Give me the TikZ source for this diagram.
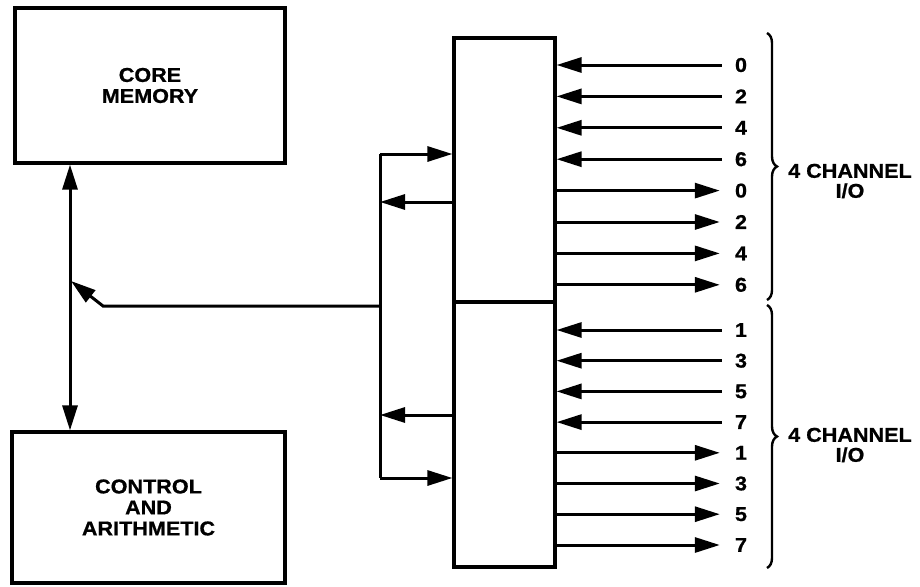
\documentclass[tikz,border=0pt]{standalone}
\usepackage{fontspec}
\setmainfont{Liberation Sans}[FakeStretch=1.08, BoldFeatures={FakeBold=0.8}]
\usetikzlibrary{arrows.meta, decorations.pathreplacing}

\tikzset{
    blk/.style={draw, line width=3.2pt, align=center, inner sep=0pt,
        font=\bfseries\fontsize{20}{21}\selectfont},
    ln/.style={line width=3pt},
    bigtip/.style={ln, -{Triangle[length=25pt, width=15pt]}},
    dbltip/.style={ln, {Triangle[length=25pt, width=15pt]}-{Triangle[length=25pt, width=15pt]}},
    num/.style={font=\bfseries\fontsize{20}{20}\selectfont, inner xsep=13pt, inner ysep=0pt},
    chan/.style={align=center, font=\bfseries\fontsize{20}{20}\selectfont},
    brc/.style={line width=2.4pt, decorate, decoration={brace, amplitude=10pt}}
}

\begin{document}
\begin{tikzpicture}[x=1pt, y=-1pt]
    \useasboundingbox (0,0) rectangle (920,586);

    % main blocks
    \node[blk, minimum width=270pt, minimum height=155pt] (core) at (150,85.5) {CORE\\MEMORY};
    \node[blk, minimum width=273pt, minimum height=151pt] (ctrl) at (148.5,507.5) {CONTROL\\AND\\ARITHMETIC};
    \node[blk, minimum width=101pt, minimum height=264pt] (iohi) at (504.5,170) {};
    \node[blk, minimum width=101pt, minimum height=265pt] (iolo) at (504.5,434.5) {};

    % memory bus
    \coordinate (mid) at (70,300);
    \draw[dbltip] (core.south -| mid) -- (ctrl.north -| mid);
    \coordinate (hit) at (71,281);
    \coordinate (kn) at (103,306);

    % i/o bus
    \coordinate (b1) at (380,154);
    \coordinate (b2) at (380,202);
    \coordinate (bf) at (380,306);
    \coordinate (b3) at (380,415);
    \coordinate (b4) at (380,478);
    \draw[ln] (b1) -- (b4);
    \draw[bigtip] (b1) -- (b1 -| iohi.west);
    \draw[bigtip] (b2 -| iohi.west) -- (b2);
    \draw[bigtip] (b3 -| iolo.west) -- (b3);
    \draw[bigtip] (b4) -- (b4 -| iolo.west);
    \draw[bigtip] (bf) -- (kn) -- (hit);

    % channels 0 2 4 6
    \foreach \y/\t [count=\i] in {65/0, 96.4/2, 127.8/4, 159.2/6} {
        \node[num] (ei\i) at (741,\y) {\t};
        \draw[bigtip] (ei\i.west) -- (ei\i.west -| iohi.east);
    }
    \foreach \y/\t [count=\i] in {190.6/0, 222/2, 253.4/4, 284.8/6} {
        \node[num] (eo\i) at (741,\y) {\t};
        \draw[bigtip] (eo\i.west -| iohi.east) -- ([xshift=-2pt]eo\i.west);
    }

    % channels 1 3 5 7
    \foreach \y/\t [count=\i] in {330/1, 360.7/3, 391.4/5, 422.1/7} {
        \node[num] (oi\i) at (741,\y) {\t};
        \draw[bigtip] (oi\i.west) -- (oi\i.west -| iolo.east);
    }
    \foreach \y/\t [count=\i] in {452.8/1, 483.5/3, 514.2/5, 545/7} {
        \node[num] (oo\i) at (741,\y) {\t};
        \draw[bigtip] (oo\i.west -| iolo.east) -- ([xshift=-2pt]oo\i.west);
    }

    % braces
    \coordinate (u1) at (767,33);
    \coordinate (u2) at (767,300);
    \coordinate (l1) at (767,305);
    \coordinate (l2) at (767,568);
    \draw[brc] (u1) -- (u2);
    \draw[brc] (l1) -- (l2);
    \node[chan] (chhi) at (850,181) {4 CHANNEL\\I/O};
    \node[chan] (chlo) at (850,445) {4 CHANNEL\\I/O};
\end{tikzpicture}
\end{document}
